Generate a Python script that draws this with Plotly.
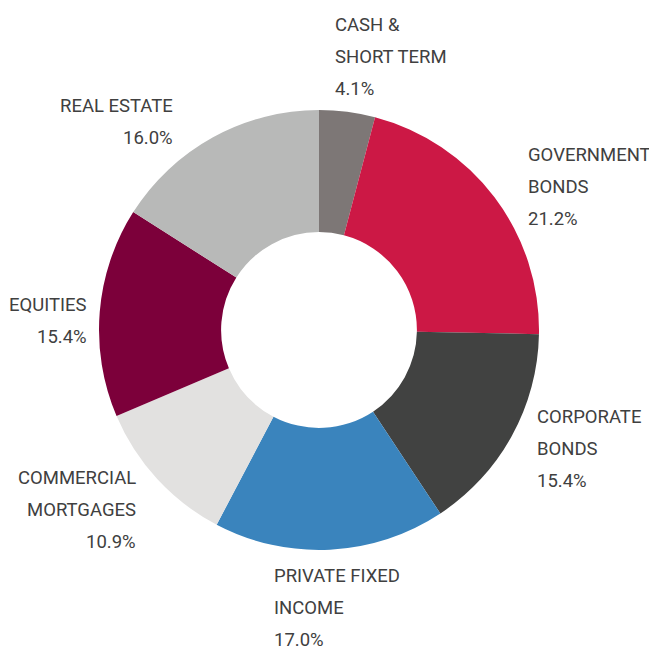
import plotly.graph_objects as go

labels = ["CASH &<br>SHORT TERM", "GOVERNMENT<br>BONDS", "CORPORATE<br>BONDS",
          "PRIVATE FIXED<br>INCOME", "COMMERCIAL<br>MORTGAGES", "EQUITIES", "REAL ESTATE"]
values = [4.1, 21.2, 15.4, 17.0, 10.9, 15.4, 16.0]
colors = ["#7d7776", "#cc1845", "#414241", "#3a84bd", "#e2e1e0", "#7c003a", "#b8b9b8"]

# label placement in window pixels (x, first line center y, anchor)
label_pos = [
    (334, 25, "left"),
    (527, 155, "left"),
    (536, 417, "left"),
    (273, 576, "left"),
    (137, 478, "right"),
    (88, 305, "right"),
    (174, 106, "right"),
]

OFF = 8  # page body margin
W, H = 657 - OFF, 650 - OFF
cx, cy, r = 319 - OFF, 330 - OFF, 220

fig = go.Figure(go.Pie(
    labels=labels, values=values, marker=dict(colors=colors, line=dict(width=0)),
    hole=0.445, sort=False, direction="clockwise", rotation=0,
    textinfo="none", hoverinfo="label+percent", showlegend=False,
    domain=dict(x=[(cx - r) / W, (cx + r) / W], y=[(H - cy - r) / H, (H - cy + r) / H]),
))

font = dict(family="Roboto, sans-serif", size=18.5, color="#404040")
ann = []
for lab, val, (px, py, anc) in zip(labels, values, label_pos):
    lines = lab.split("<br>") + [f"{val:.1f}%"]
    for i, t in enumerate(lines):
        ann.append(dict(x=(px - OFF) / W, y=1 - (py - OFF + 32 * i) / H, xref="paper", yref="paper",
                        text=t, showarrow=False, xanchor=anc, yanchor="middle", font=font,
                        xshift=-1 if anc == "left" else 1))

fig.update_layout(width=W, height=H, margin=dict(l=0, r=0, t=0, b=0),
                  paper_bgcolor="white", plot_bgcolor="white", annotations=ann)
fig.write_html("out.html")
